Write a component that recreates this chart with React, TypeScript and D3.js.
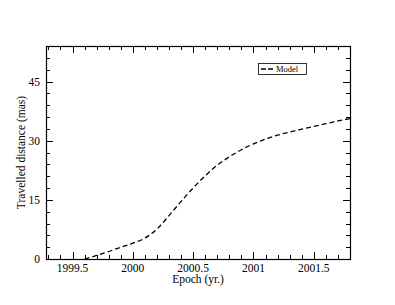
import React, { useEffect, useRef } from 'react';
import * as d3 from 'd3';

// Model curve
const epochs = [1999.6, 1999.7, 1999.8, 1999.9, 2000.0, 2000.1, 2000.2, 2000.3, 2000.4, 2000.5, 2000.6, 2000.7, 2000.8, 2000.9, 2001.0, 2001.1, 2001.2, 2001.3, 2001.4, 2001.5, 2001.6, 2001.7, 2001.8];
const distance = [0, 0.9, 1.9, 3.0, 4.0, 5.3, 7.6, 11.0, 14.6, 18.0, 21.1, 23.8, 25.9, 27.7, 29.2, 30.4, 31.4, 32.2, 32.9, 33.6, 34.3, 35.0, 35.6];
const xTicks = [1999.5, 2000, 2000.5, 2001, 2001.5];
const yTicks = [0, 15, 30, 45];
const legendLabel = 'Model';

export default function App() {
  const svgRef = useRef<SVGSVGElement>(null);

  useEffect(() => {
    if (!svgRef.current) return;
    const svg = d3.select(svgRef.current);
    svg.selectAll('*').remove();

    const left = 46, right = 350, top = 46, bottom = 259;
    const font = '"Liberation Serif", "Times New Roman", serif';

    const x = d3.scaleLinear().domain([1999.28, 2001.8]).range([left, right]);
    const y = d3.scaleLinear().domain([0, 54]).range([bottom, top]);

    const g = svg.append('g');

    // minor/major ticks on all four sides, pointing inward
    const xMinor = d3.range(1999.3, 2001.8 + 1e-6, 0.1);
    const yMinor = d3.range(0, 54 + 1e-6, 3);
    const isMajorX = (v: number) => Math.abs(v * 2 - Math.round(v * 2)) < 1e-6;
    const isMajorY = (v: number) => Math.abs(v / 15 - Math.round(v / 15)) < 1e-6;

    xMinor.forEach(v => {
      const len = isMajorX(v) ? 7 : 4;
      const px = Math.round(x(v)) + 0.5;
      g.append('line').attr('x1', px).attr('x2', px).attr('y1', bottom).attr('y2', bottom - len).attr('stroke', '#000');
      g.append('line').attr('x1', px).attr('x2', px).attr('y1', top).attr('y2', top + len).attr('stroke', '#000');
    });
    yMinor.forEach(v => {
      const len = isMajorY(v) ? 7 : 4;
      const py = Math.round(y(v)) + 0.5;
      g.append('line').attr('x1', left).attr('x2', left + len).attr('y1', py).attr('y2', py).attr('stroke', '#000');
      g.append('line').attr('x1', right).attr('x2', right - len).attr('y1', py).attr('y2', py).attr('stroke', '#000');
    });

    g.append('rect')
      .attr('x', left + 0.5).attr('y', top + 0.5)
      .attr('width', right - left).attr('height', bottom - top)
      .attr('fill', 'none').attr('stroke', '#000').attr('stroke-width', 1.2);

    // tick labels
    g.selectAll('.xl').data(xTicks).enter().append('text')
      .attr('x', d => x(d)).attr('y', bottom + 13)
      .attr('text-anchor', 'middle')
      .attr('font-family', font).attr('font-size', 11.5)
      .text(d => String(d));

    g.selectAll('.yl').data(yTicks).enter().append('text')
      .attr('x', left - 6).attr('y', d => y(d) + 4)
      .attr('text-anchor', 'end')
      .attr('font-family', font).attr('font-size', 11.5)
      .text(d => String(d));

    // axis titles
    g.append('text')
      .attr('x', (left + right) / 2).attr('y', bottom + 24)
      .attr('text-anchor', 'middle')
      .attr('font-family', font).attr('font-size', 11.5)
      .text('Epoch (yr.)');

    g.append('text')
      .attr('transform', `translate(25,${(top + bottom) / 2}) rotate(-90)`)
      .attr('text-anchor', 'middle')
      .attr('font-family', font).attr('font-size', 11.5)
      .text('Travelled distance (mas)');

    // model curve
    const pts = epochs.map((e, i) => [e, distance[i]] as [number, number]);
    const line = d3.line<[number, number]>()
      .x(d => x(d[0]))
      .y(d => y(d[1]))
      .curve(d3.curveMonotoneX);

    g.append('path')
      .datum(pts)
      .attr('fill', 'none')
      .attr('stroke', '#000')
      .attr('stroke-width', 1.3)
      .attr('stroke-dasharray', '5,3')
      .attr('d', line);

    // legend
    const lx = 258, ly = 63;
    g.append('rect')
      .attr('x', lx + 0.5).attr('y', ly + 0.5).attr('width', 48).attr('height', 11)
      .attr('fill', '#fff').attr('stroke', '#000').attr('stroke-width', 0.8);
    g.append('line')
      .attr('x1', lx + 3).attr('x2', lx + 15).attr('y1', ly + 6).attr('y2', ly + 6)
      .attr('stroke', '#000').attr('stroke-width', 1.3).attr('stroke-dasharray', '5,2');
    g.append('text')
      .attr('x', lx + 18).attr('y', ly + 9)
      .attr('font-family', font).attr('font-size', 8.5)
      .text(legendLabel);
  }, []);

  return (
    <div style={{ position: 'fixed', left: 0, top: 0 }}>
      <svg ref={svgRef} width={395} height={305} style={{ display: 'block', background: '#fff' }} />
    </div>
  );
}
